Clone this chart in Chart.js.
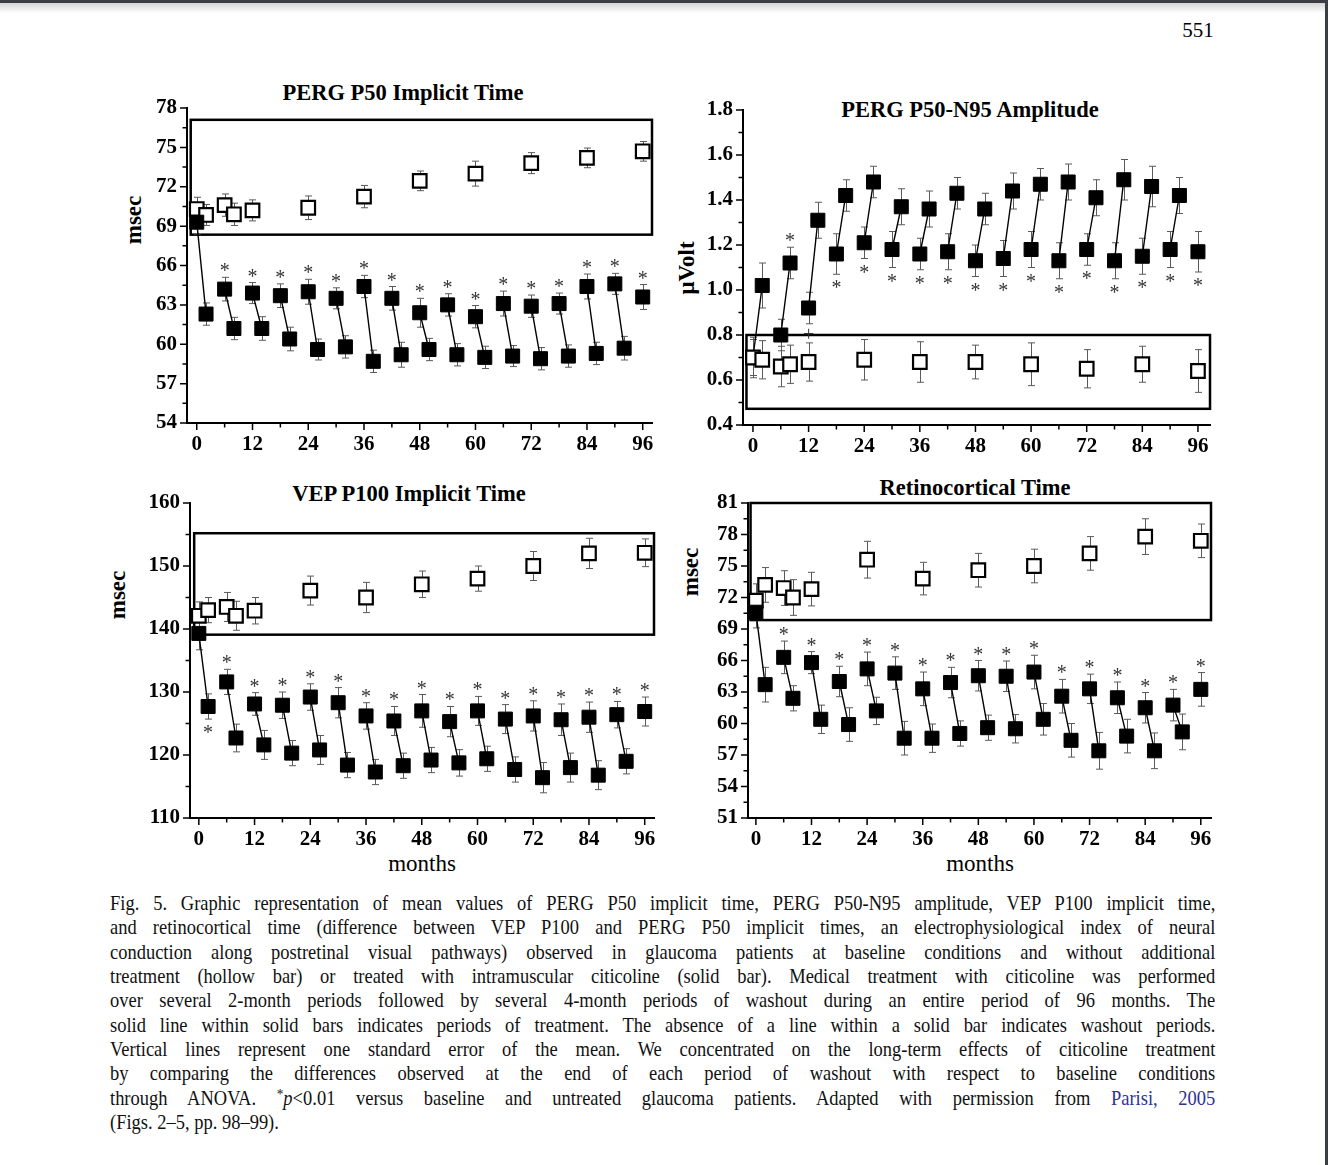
<!DOCTYPE html>
<html>
<head>
<meta charset="utf-8">
<title>Fig. 5</title>
<script src="https://cdn.jsdelivr.net/npm/chart.js@4.4.1/dist/chart.umd.min.js"></script>
<style>
  html, body { margin: 0; padding: 0; background: #fff; }
  body { width: 1328px; height: 1165px; position: relative; overflow: hidden; font-family: 'Liberation Serif', 'Times New Roman', serif; color: #000; }
  .topbar { position: absolute; left: 0; top: 0; width: 1328px; height: 3px; background: #3b3e43; }
  .topshade { position: absolute; left: 0; top: 3px; width: 1328px; height: 10px; background: linear-gradient(#d4d4d4, #fff); }
  .rightbar { position: absolute; left: 1325px; top: 0; width: 3px; height: 1165px; background: #3b3e43; }
  .pageno { position: absolute; left: 1198px; top: 30px; transform: translate(-50%, -50%); font-size: 21px; line-height: 1; }
  .title { position: absolute; transform: translate(-50%, -50%); font-weight: bold; font-size: 22.5px; line-height: 1; white-space: nowrap; }
  .ylab { position: absolute; transform: translate(-50%, -50%) rotate(-90deg); font-weight: bold; font-size: 23px; line-height: 1; white-space: nowrap; }
  .xlab { position: absolute; transform: translate(-50%, -50%); font-size: 23px; line-height: 1; white-space: nowrap; }
  canvas { position: absolute; }
  .caption { position: absolute; left: 110px; top: 891px; width: 1256px; transform: scaleX(0.88); transform-origin: 0 0; font-size: 21px; line-height: 24.33px; color: #111; }
  .caption div { text-align: justify; text-align-last: justify; }
  .caption div.last { text-align-last: left; }
  .caption sup { font-size: 0.72em; line-height: 0; vertical-align: 0.38em; }
  .caption .ref { color: #2e3192; }
</style>
</head>
<body>
<div class="topbar"></div>
<div class="topshade"></div>
<div class="rightbar"></div>
<div class="pageno">551</div>

<div class="title" style="left:403px; top:93px;">PERG P50 Implicit Time</div>
<div class="title" style="left:970px; top:110px;">PERG P50-N95 Amplitude</div>
<div class="title" style="left:409px; top:494px;">VEP P100 Implicit Time</div>
<div class="title" style="left:975px; top:488px;">Retinocortical Time</div>

<div class="ylab" style="left:133px; top:220px;">msec</div>
<div class="ylab" style="left:686px; top:268px;">μVolt</div>
<div class="ylab" style="left:117px; top:595px;">msec</div>
<div class="ylab" style="left:690px; top:572px;">msec</div>

<div class="xlab" style="left:422px; top:863px;">months</div>
<div class="xlab" style="left:980px; top:863px;">months</div>

<div class="caption">
  <div>Fig. 5. Graphic representation of mean values of PERG P50 implicit time, PERG P50-N95 amplitude, VEP P100 implicit time,</div>
  <div>and retinocortical time (difference between VEP P100 and PERG P50 implicit times, an electrophysiological index of neural</div>
  <div>conduction along postretinal visual pathways) observed in glaucoma patients at baseline conditions and without additional</div>
  <div>treatment (hollow bar) or treated with intramuscular citicoline (solid bar). Medical treatment with citicoline was performed</div>
  <div>over several 2-month periods followed by several 4-month periods of washout during an entire period of 96 months. The</div>
  <div>solid line within solid bars indicates periods of treatment. The absence of a line within a solid bar indicates washout periods.</div>
  <div>Vertical lines represent one standard error of the mean. We concentrated on the long-term effects of citicoline treatment</div>
  <div>by comparing the differences observed at the end of each period of washout with respect to baseline conditions</div>
  <div>through ANOVA. <sup>*</sup><i>p</i>&lt;0.01 versus baseline and untreated glaucoma patients. Adapted with permission from <span class="ref">Parisi, 2005</span></div>
  <div class="last">(Figs. 2–5, pp. 98–99).</div>
</div>

<script>
// ---- data ----
const X_MAJOR = [0, 12, 24, 36, 48, 60, 72, 84, 96];
const X_MINOR = [6, 18, 30, 42, 54, 66, 78, 90];

const SOLID_MONTHS = [0, 2, 6, 8, 12, 14, 18, 20, 24, 26, 30, 32, 36, 38, 42, 44, 48, 50, 54, 56, 60, 62, 66, 68, 72, 74, 78, 80, 84, 86, 90, 92, 96];
const HOLLOW_MONTHS = [0, 2, 6, 8, 12, 24, 36, 48, 60, 72, 84, 96];
// each treatment runs from these months to 2 months later
const TREATMENT_STARTS = [0, 6, 12, 18, 24, 30, 36, 42, 48, 54, 60, 66, 72, 78, 84, 90];

// PERG P50 implicit time (msec)
const P50_SOLID = [69.3, 62.3, 64.2, 61.2, 63.9, 61.2, 63.7, 60.4, 64.0, 59.6, 63.5, 59.8, 64.4, 58.7, 63.5, 59.2, 62.4, 59.6, 63.0, 59.2, 62.1, 59.0, 63.1, 59.1, 62.9, 58.9, 63.1, 59.1, 64.4, 59.3, 64.6, 59.7, 63.6];
const P50_SOLID_SE = [0.9, 0.85, 0.9, 0.85, 0.8, 0.9, 0.9, 0.9, 0.95, 0.8, 0.8, 0.85, 0.85, 0.85, 0.9, 0.95, 1.1, 0.85, 0.85, 0.85, 0.85, 0.85, 0.95, 0.8, 0.85, 0.85, 0.8, 0.85, 0.95, 0.85, 0.8, 0.9, 0.95];
const P50_HOLLOW = [70.3, 69.85, 70.6, 69.9, 70.2, 70.4, 71.25, 72.45, 73.0, 73.8, 74.2, 74.7];
const P50_HOLLOW_SE = [0.9, 0.8, 0.85, 0.85, 0.8, 0.9, 0.85, 0.75, 0.95, 0.8, 0.75, 0.75];
const P50_Y_MAJOR = [54, 57, 60, 63, 66, 69, 72, 75, 78];
const P50_Y_MINOR = [55.5, 58.5, 61.5, 64.5, 67.5, 70.5, 73.5, 76.5];
const P50_STARS_ABOVE = [6, 12, 18, 24, 30, 36, 42, 48, 54, 60, 66, 72, 78, 84, 90, 96];

// PERG P50-N95 amplitude (µV)
const AMP_SOLID = [0.70, 1.02, 0.80, 1.12, 0.92, 1.31, 1.16, 1.42, 1.21, 1.48, 1.18, 1.37, 1.16, 1.36, 1.17, 1.43, 1.13, 1.36, 1.14, 1.44, 1.18, 1.47, 1.13, 1.48, 1.18, 1.41, 1.13, 1.49, 1.15, 1.46, 1.18, 1.42, 1.17];
const AMP_SOLID_SE = [0.08, 0.1, 0.07, 0.07, 0.07, 0.08, 0.09, 0.07, 0.07, 0.07, 0.08, 0.08, 0.07, 0.08, 0.08, 0.07, 0.07, 0.07, 0.08, 0.08, 0.08, 0.07, 0.08, 0.08, 0.07, 0.08, 0.08, 0.09, 0.08, 0.09, 0.08, 0.08, 0.09];
const AMP_HOLLOW = [0.70, 0.69, 0.66, 0.67, 0.68, 0.69, 0.68, 0.68, 0.67, 0.65, 0.67, 0.64];
const AMP_HOLLOW_SE = [0.09, 0.085, 0.09, 0.085, 0.085, 0.09, 0.09, 0.075, 0.095, 0.085, 0.08, 0.095];
const AMP_Y_MAJOR = [0.4, 0.6, 0.8, 1.0, 1.2, 1.4, 1.6, 1.8];
const AMP_Y_MINOR = [0.5, 0.7, 0.9, 1.1, 1.3, 1.5, 1.7];
const AMP_STARS_ABOVE = [8];
const AMP_STARS_BELOW = [18, 24, 30, 36, 42, 48, 54, 60, 66, 72, 78, 84, 90, 96];
const AMP_PLUS_BELOW = [12];

// VEP P100 implicit time (msec)
const P100_SOLID = [139.3, 127.7, 131.6, 122.7, 128.1, 121.6, 127.9, 120.3, 129.2, 120.8, 128.3, 118.4, 126.2, 117.3, 125.4, 118.3, 127.0, 119.2, 125.3, 118.75, 127.0, 119.4, 125.7, 117.7, 126.2, 116.4, 125.6, 118.0, 126.0, 116.8, 126.4, 119.0, 126.9];
const P100_SOLID_SE = [2.6, 2.0, 2.0, 2.2, 1.8, 2.3, 2.1, 2.0, 2.1, 2.3, 2.4, 2.0, 2.1, 2.0, 2.3, 2.0, 2.6, 2.0, 2.4, 2.1, 2.3, 2.0, 2.3, 2.0, 2.4, 2.4, 2.5, 2.3, 2.4, 2.3, 2.1, 2.0, 2.3];
const P100_HOLLOW = [142.1, 143.0, 143.5, 142.1, 142.9, 146.1, 145.0, 147.1, 148.0, 150.0, 152.0, 152.1];
const P100_HOLLOW_SE = [2.2, 2.0, 2.3, 2.3, 2.1, 2.3, 2.4, 2.1, 2.0, 2.3, 2.4, 2.2];
const P100_Y_MAJOR = [110, 120, 130, 140, 150, 160];
const P100_Y_MINOR = [115, 125, 135, 145, 155];
const P100_STARS_ABOVE = [6, 12, 18, 24, 30, 36, 42, 48, 54, 60, 66, 72, 78, 84, 90, 96];
const P100_STARS_BELOW = [2];

// Retinocortical time (msec)
const RCT_SOLID = [70.6, 63.7, 66.3, 62.4, 65.8, 60.4, 64.0, 59.9, 65.2, 61.2, 64.8, 58.6, 63.3, 58.6, 63.9, 59.05, 64.55, 59.6, 64.5, 59.5, 64.9, 60.4, 62.6, 58.4, 63.3, 57.4, 62.45, 58.8, 61.5, 57.4, 61.75, 59.2, 63.25];
const RCT_SOLID_SE = [1.5, 1.65, 1.55, 1.2, 1.05, 1.35, 1.45, 1.6, 1.6, 1.3, 1.55, 1.6, 1.6, 1.35, 1.45, 1.2, 1.45, 1.2, 1.45, 1.35, 1.6, 1.5, 1.6, 1.6, 1.4, 1.75, 1.5, 1.6, 1.45, 1.7, 1.5, 1.7, 1.6];
const RCT_HOLLOW = [71.7, 73.2, 72.9, 72.0, 72.8, 75.6, 73.8, 74.6, 75.0, 76.2, 77.8, 77.4];
const RCT_HOLLOW_SE = [1.6, 1.65, 1.65, 1.7, 1.6, 1.75, 1.55, 1.6, 1.6, 1.6, 1.7, 1.6];
const RCT_Y_MAJOR = [51, 54, 57, 60, 63, 66, 69, 72, 75, 78, 81];
const RCT_Y_MINOR = [52.5, 55.5, 58.5, 61.5, 64.5, 67.5, 70.5, 73.5, 76.5, 79.5];
const RCT_STARS_ABOVE = [6, 12, 18, 24, 30, 36, 42, 48, 54, 60, 66, 72, 78, 84, 90, 96];

// ---- layout ----
const SERIF = "'Liberation Serif', 'Times New Roman', serif";
const PAD_L = 85, PAD_T = 25, PAD_R = 25, PAD_B = 45;

const panels = [
    { rect: [187, 108, 652, 423], x: [-2.1, 98], y: [54, 78], yMajor: P50_Y_MAJOR, yMinor: P50_Y_MINOR,
      solid: P50_SOLID, solidSE: P50_SOLID_SE, hollow: P50_HOLLOW, hollowSE: P50_HOLLOW_SE,
      box: [-1.3, 68.35, 98, 77.1], above: P50_STARS_ABOVE, below: [], plus: [], hollowOnTop: false, dec: 0 },
    { rect: [743, 110, 1210, 425], x: [-2.15, 98.6], y: [0.4, 1.8], yMajor: AMP_Y_MAJOR, yMinor: AMP_Y_MINOR,
      solid: AMP_SOLID, solidSE: AMP_SOLID_SE, hollow: AMP_HOLLOW, hollowSE: AMP_HOLLOW_SE,
      box: [-1.4, 0.472, 98.6, 0.80], above: AMP_STARS_ABOVE, below: AMP_STARS_BELOW, plus: AMP_PLUS_BELOW, hollowOnTop: true, dec: 1 },
    { rect: [190, 503, 654, 818], x: [-1.9, 98], y: [110, 160], yMajor: P100_Y_MAJOR, yMinor: P100_Y_MINOR,
      solid: P100_SOLID, solidSE: P100_SOLID_SE, hollow: P100_HOLLOW, hollowSE: P100_HOLLOW_SE,
      box: [-1.0, 139.1, 98, 155.2], above: P100_STARS_ABOVE, below: P100_STARS_BELOW, plus: [], hollowOnTop: false, dec: 0 },
    { rect: [748, 503, 1211, 818], x: [-1.7, 98.2], y: [51, 81], yMajor: RCT_Y_MAJOR, yMinor: RCT_Y_MINOR,
      solid: RCT_SOLID, solidSE: RCT_SOLID_SE, hollow: RCT_HOLLOW, hollowSE: RCT_HOLLOW_SE,
      box: [-1.15, 69.85, 98.2, 81], above: RCT_STARS_ABOVE, below: [], plus: [], hollowOnTop: false, dec: 0 }
];

function overlay(p) {
    const solidAt = m => SOLID_MONTHS.indexOf(m);
    return {
        id: 'overlay',
        beforeDatasetsDraw(chart) {
            const { ctx, scales: { x, y } } = chart;
            ctx.save();
            // untreated group frame
            const [bx0, by0, bx1, by1] = p.box;
            const l = x.getPixelForValue(bx0), r = x.getPixelForValue(bx1);
            const t = y.getPixelForValue(by1), b = y.getPixelForValue(by0);
            ctx.strokeStyle = '#000';
            ctx.lineWidth = 2.5;
            ctx.strokeRect(l, t, r - l, b - t);

            // standard error bars
            ctx.strokeStyle = '#5a5a5a';
            ctx.lineWidth = 1;
            const bars = (months, vals, se) => months.forEach((m, i) => {
                const px = Math.round(x.getPixelForValue(m)) + 0.5;
                const y1 = y.getPixelForValue(vals[i] + se[i]);
                const y2 = y.getPixelForValue(vals[i] - se[i]);
                ctx.beginPath();
                ctx.moveTo(px, y1); ctx.lineTo(px, y2);
                ctx.moveTo(px - 3.5, y1); ctx.lineTo(px + 3.5, y1);
                ctx.moveTo(px - 3.5, y2); ctx.lineTo(px + 3.5, y2);
                ctx.stroke();
            });
            bars(HOLLOW_MONTHS, p.hollow, p.hollowSE);
            bars(SOLID_MONTHS, p.solid, p.solidSE);
            ctx.restore();
        },
        afterDatasetsDraw(chart) {
            const { ctx, scales: { x, y } } = chart;
            ctx.save();
            ctx.fillStyle = '#333';
            ctx.font = '20px ' + SERIF;
            ctx.textAlign = 'center';
            ctx.textBaseline = 'alphabetic';
            const mark = (m, sym, up) => {
                const i = solidAt(m);
                const px = x.getPixelForValue(m);
                const end = up ? y.getPixelForValue(p.solid[i] + p.solidSE[i]) : y.getPixelForValue(p.solid[i] - p.solidSE[i]);
                const cy = up ? end - 10 : end + 10;
                const mt = ctx.measureText(sym);
                const base = cy + (mt.actualBoundingBoxAscent - mt.actualBoundingBoxDescent) / 2;
                ctx.fillText(sym, px, base);
            };
            p.above.forEach(m => mark(m, '*', true));
            p.below.forEach(m => mark(m, '*', false));
            p.plus.forEach(m => mark(m, '+', false));
            ctx.restore();
        },
        afterDraw(chart) {
            const { ctx, scales: { x, y }, chartArea } = chart;
            ctx.save();
            ctx.strokeStyle = '#000';
            ctx.lineWidth = 1.5;
            ctx.beginPath();
            X_MAJOR.concat(X_MINOR).forEach(v => {
                const px = x.getPixelForValue(v);
                const len = X_MAJOR.includes(v) ? 7 : 4.5;
                ctx.moveTo(px, chartArea.bottom); ctx.lineTo(px, chartArea.bottom + len);
            });
            p.yMajor.concat(p.yMinor).forEach(v => {
                const py = y.getPixelForValue(v);
                const len = p.yMajor.includes(v) ? 7 : 4.5;
                ctx.moveTo(chartArea.left, py); ctx.lineTo(chartArea.left - len, py);
            });
            ctx.stroke();
            ctx.restore();
        }
    };
}

Chart.defaults.font.family = SERIF;

panels.forEach(p => {
    const [L, T, R, B] = p.rect;
    const cv = document.createElement('canvas');
    const w = (R - L) + PAD_L + PAD_R, h = (B - T) + PAD_T + PAD_B;
    cv.width = w; cv.height = h;
    cv.style.left = (L - PAD_L) + 'px';
    cv.style.top = (T - PAD_T) + 'px';
    cv.style.width = w + 'px';
    cv.style.height = h + 'px';
    document.body.appendChild(cv);

    const solidPts = SOLID_MONTHS.map((m, i) => ({ x: m, y: p.solid[i] }));
    const hollowPts = HOLLOW_MONTHS.map((m, i) => ({ x: m, y: p.hollow[i] }));
    const valAt = m => p.solid[SOLID_MONTHS.indexOf(m)];
    const linePts = TREATMENT_STARTS.flatMap(t => [
        { x: t, y: valAt(t) }, { x: t + 2, y: valAt(t + 2) }, { x: t + 2, y: null }
    ]);

    new Chart(cv, {
        type: 'scatter',
        data: {
            datasets: [
                { type: 'line', data: linePts, borderColor: '#000', borderWidth: 1.4, pointRadius: 0, fill: false, tension: 0, spanGaps: false, order: 3 },
                { data: hollowPts, pointStyle: 'rect', pointRadius: 9.6, backgroundColor: '#fff', borderColor: '#000', borderWidth: 2.2, order: p.hollowOnTop ? 1 : 2 },
                { data: solidPts, pointStyle: 'rect', pointRadius: 9.9, backgroundColor: '#000', borderColor: '#000', borderWidth: 1, order: p.hollowOnTop ? 2 : 1 }
            ]
        },
        options: {
            responsive: false,
            animation: false,
            events: [],
            devicePixelRatio: 1,
            layout: { padding: { top: PAD_T, right: PAD_R, left: 0, bottom: 0 } },
            plugins: { legend: { display: false }, tooltip: { enabled: false } },
            scales: {
                x: {
                    type: 'linear', min: p.x[0], max: p.x[1],
                    grid: { display: false, drawTicks: false },
                    border: { display: true, color: '#000', width: 2 },
                    afterBuildTicks: s => { s.ticks = X_MAJOR.concat(X_MINOR).sort((a, b) => a - b).map(v => ({ value: v })); },
                    afterFit: s => { s.height = PAD_B; },
                    ticks: {
                        autoSkip: false, maxRotation: 0, padding: 9, color: '#000',
                        font: { family: SERIF, size: 21, weight: 'bold' },
                        callback: v => X_MAJOR.includes(v) ? String(v) : ''
                    }
                },
                y: {
                    type: 'linear', min: p.y[0], max: p.y[1],
                    grid: { display: false, drawTicks: false },
                    border: { display: true, color: '#000', width: 2 },
                    afterBuildTicks: s => { s.ticks = p.yMajor.concat(p.yMinor).sort((a, b) => a - b).map(v => ({ value: v })); },
                    afterFit: s => { s.width = PAD_L; },
                    ticks: {
                        autoSkip: false, padding: 10, color: '#000',
                        font: { family: SERIF, size: 21, weight: 'bold' },
                        callback: v => p.yMajor.includes(v) ? v.toFixed(p.dec) : ''
                    }
                }
            }
        },
        plugins: [overlay(p)]
    });
});
</script>
</body>
</html>
